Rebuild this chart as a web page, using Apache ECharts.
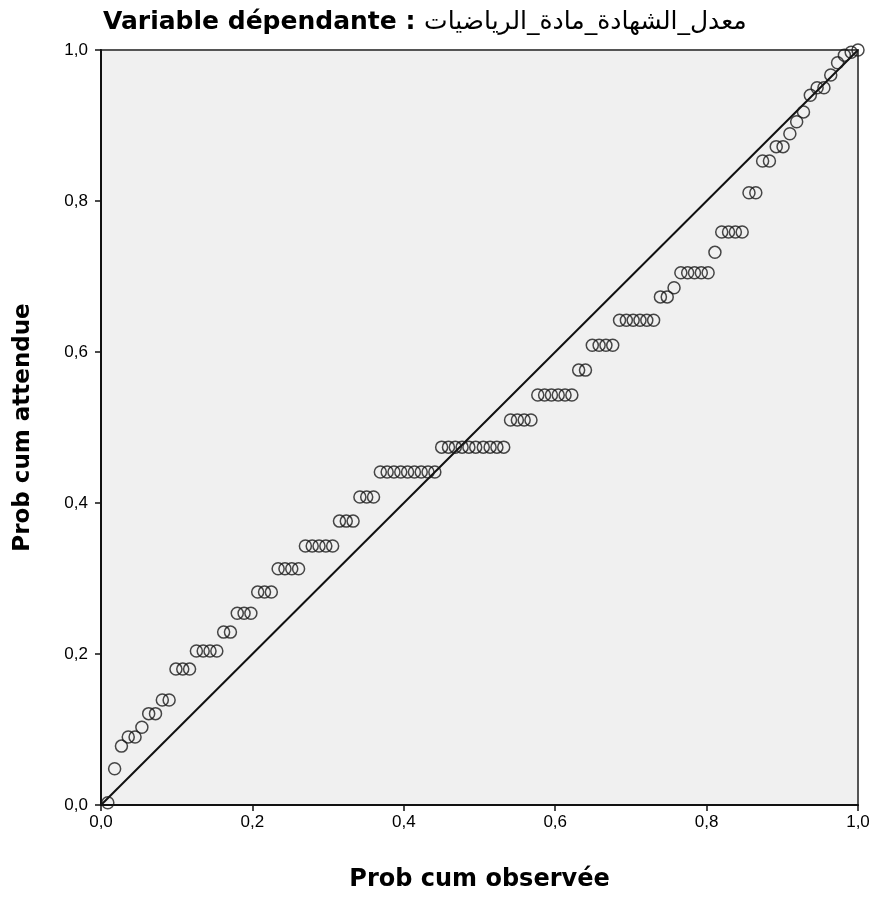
<!DOCTYPE html>
<html>
<head>
<meta charset="utf-8">
<script src="https://cdn.jsdelivr.net/npm/echarts@6/dist/echarts.min.js"></script>
<style>
html,body{margin:0;padding:0;background:#fff;}
#chart{width:875px;height:900px;}
</style>
</head>
<body>
<div id="chart"></div>
<script>
const titleLatin = 'Variable dépendante : ';
const titleArabic = 'معدل_الشهادة_مادة_الرياضيات';
const xAxisTitle = 'Prob cum observée';
const yAxisTitle = 'Prob cum attendue';
const tickValues = [0, 0.2, 0.4, 0.6, 0.8, 1.0];

// Observed cumulative probability (x) for each point
const observed = [
  0.009, 0.018, 0.027, 0.036, 0.045, 0.054, 0.063, 0.072, 0.081, 0.090,
  0.099, 0.108, 0.117, 0.126, 0.135, 0.144, 0.153, 0.162, 0.171, 0.180,
  0.189, 0.198, 0.207, 0.216, 0.225, 0.234, 0.243, 0.252, 0.261, 0.270,
  0.279, 0.288, 0.297, 0.306, 0.315, 0.324, 0.333, 0.342, 0.351, 0.360,
  0.369, 0.378, 0.387, 0.396, 0.405, 0.414, 0.423, 0.432, 0.441, 0.450,
  0.459, 0.468, 0.477, 0.486, 0.495, 0.505, 0.514, 0.523, 0.532, 0.541,
  0.550, 0.559, 0.568, 0.577, 0.586, 0.595, 0.604, 0.613, 0.622, 0.631,
  0.640, 0.649, 0.658, 0.667, 0.676, 0.685, 0.694, 0.703, 0.712, 0.721,
  0.730, 0.739, 0.748, 0.757, 0.766, 0.775, 0.784, 0.793, 0.802, 0.811,
  0.820, 0.829, 0.838, 0.847, 0.856, 0.865, 0.874, 0.883, 0.892, 0.901,
  0.910, 0.919, 0.928, 0.937, 0.946, 0.955, 0.964, 0.973, 0.982, 0.991,
  1.000
];
// Expected cumulative probability (y) for each point
const expected = [
  0.003, 0.048, 0.078, 0.090, 0.090, 0.103, 0.121, 0.121, 0.139, 0.139,
  0.180, 0.180, 0.180, 0.204, 0.204, 0.204, 0.204, 0.229, 0.229, 0.254,
  0.254, 0.254, 0.282, 0.282, 0.282, 0.313, 0.313, 0.313, 0.313, 0.343,
  0.343, 0.343, 0.343, 0.343, 0.376, 0.376, 0.376, 0.408, 0.408, 0.408,
  0.441, 0.441, 0.441, 0.441, 0.441, 0.441, 0.441, 0.441, 0.441, 0.474,
  0.474, 0.474, 0.474, 0.474, 0.474, 0.474, 0.474, 0.474, 0.474, 0.510,
  0.510, 0.510, 0.510, 0.543, 0.543, 0.543, 0.543, 0.543, 0.543, 0.576,
  0.576, 0.609, 0.609, 0.609, 0.609, 0.642, 0.642, 0.642, 0.642, 0.642,
  0.642, 0.673, 0.673, 0.685, 0.705, 0.705, 0.705, 0.705, 0.705, 0.732,
  0.759, 0.759, 0.759, 0.759, 0.811, 0.811, 0.853, 0.853, 0.872, 0.872,
  0.889, 0.905, 0.918, 0.940, 0.950, 0.950, 0.967, 0.983, 0.993, 0.997,
  1.000
];
const diagonal = [[0, 0], [1, 1]];

const points = observed.map((x, i) => [x, expected[i]]);
const fmt = v => v.toFixed(1).replace('.', ',');
const labelFont = '"Liberation Sans", Arial, sans-serif';
const boldFont = '"DejaVu Sans", "Liberation Sans", sans-serif';

const chart = echarts.init(document.getElementById('chart'), null, {renderer: 'canvas'});
chart.setOption({
  backgroundColor: '#ffffff',
  animation: false,
  title: {
    text: '{a|' + titleLatin + '}{b|' + titleArabic + '}',
    left: 98,
    top: 5,
    textStyle: {
      rich: {
        a: {fontFamily: boldFont, fontSize: 25, fontWeight: 'bold', color: '#000'},
        b: {fontFamily: '"DejaVu Sans", sans-serif', fontSize: 25, fontWeight: 'normal', color: '#000'}
      }
    }
  },
  grid: {
    left: 101, right: 17, top: 50, bottom: 95,
    show: true,
    backgroundColor: '#f0f0f0',
    borderColor: '#555',
    borderWidth: 2
  },
  xAxis: {
    type: 'value',
    min: 0, max: 1, interval: 0.2,
    name: xAxisTitle,
    nameLocation: 'middle',
    nameGap: 63,
    nameTextStyle: {fontFamily: boldFont, fontSize: 24, fontWeight: 'bold', color: '#000'},
    axisLine: {show: true, lineStyle: {color: '#111', width: 2}},
    axisTick: {show: true, length: 6, inside: false, lineStyle: {color: '#111', width: 1.5}},
    axisLabel: {formatter: fmt, fontFamily: labelFont, fontSize: 17, color: '#000', margin: 9,
      customValues: tickValues},
    splitLine: {show: false}
  },
  yAxis: {
    type: 'value',
    min: 0, max: 1, interval: 0.2,
    name: yAxisTitle,
    nameLocation: 'middle',
    nameGap: 66,
    nameRotate: 90,
    nameTextStyle: {fontFamily: boldFont, fontSize: 23, fontWeight: 'bold', color: '#000'},
    axisLine: {show: true, lineStyle: {color: '#111', width: 2}},
    axisTick: {show: true, length: 6, inside: false, lineStyle: {color: '#111', width: 1.5}},
    axisLabel: {formatter: fmt, fontFamily: labelFont, fontSize: 17, color: '#000', margin: 13},
    splitLine: {show: false}
  },
  series: [
    {
      type: 'line',
      data: diagonal,
      symbol: 'none',
      lineStyle: {color: '#111', width: 2},
      silent: true,
      z: 2
    },
    {
      type: 'scatter',
      data: points,
      symbol: 'circle',
      symbolSize: 12,
      itemStyle: {color: 'rgba(0,0,0,0)', borderColor: '#1a1a1a', borderWidth: 1.5},
      z: 3
    }
  ]
});
</script>
</body>
</html>
